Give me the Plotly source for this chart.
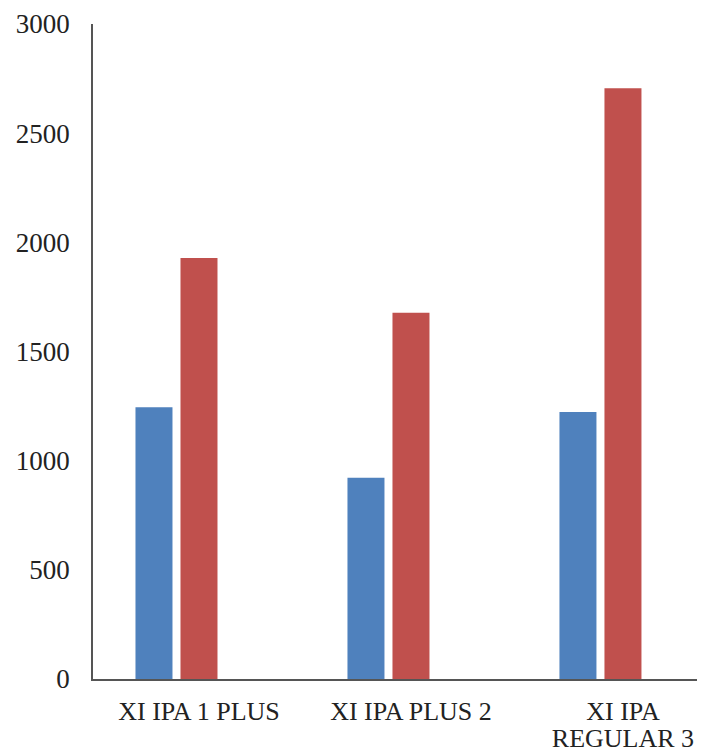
import plotly.graph_objects as go

categories = ["XI IPA 1 PLUS", "XI IPA PLUS 2", "XI IPA REGULAR 3"]
label_line1 = ["XI IPA 1 PLUS", "XI IPA PLUS 2", "XI IPA"]
label_line2 = ["", "", "REGULAR 3"]
series_blue = [1245, 922, 1223]
series_red = [1928, 1678, 2706]
series_empty = [0, 0, 0]
y_ticks = [0, 500, 1000, 1500, 2000, 2500, 3000]

fig = go.Figure()
fig.add_trace(go.Bar(x=categories, y=series_blue, marker=dict(color="#4F81BD", line=dict(width=0)), name="A"))
fig.add_trace(go.Bar(x=categories, y=series_red, marker=dict(color="#C0504D", line=dict(width=0)), name="B"))
fig.add_trace(go.Bar(x=categories, y=series_empty, marker=dict(color="rgba(0,0,0,0)", line=dict(width=0)), name="C", hoverinfo="skip"))
fig.add_trace(go.Scatter(x=categories, y=[None, None, None], xaxis="x2", showlegend=False, hoverinfo="skip"))

font = dict(family="Liberation Serif, Times New Roman, serif", size=27, color="#222")
xfont = dict(family="Liberation Serif, Times New Roman, serif", size=26, color="#222")
# page body has 8px margin: figure is shifted by 8px right/down
fig.update_layout(
    width=697, height=745,
    margin=dict(l=85, r=0, t=16, b=74),
    paper_bgcolor="white", plot_bgcolor="white",
    barmode="group", bargap=0.363, bargroupgap=0.178,
    showlegend=False,
    font=font,
    xaxis2=dict(
        type="category", overlaying="x", side="bottom", range=[-0.5, 2.387],
        tickvals=categories, ticktext=label_line2,
        showline=False, showgrid=False, ticks="", tickfont=xfont, ticklabelstandoff=41,
        zeroline=False,
    ),
)
fig.layout.xaxis.update(
    type="category", range=[-0.5, 2.387],
    tickvals=categories, ticktext=label_line1,
    showline=True, linecolor="#555", linewidth=1.5,
    showgrid=False, ticks="", tickfont=xfont, ticklabelstandoff=8,
)
fig.update_yaxes(
    range=[0, 3000], tickvals=y_ticks,
    showline=True, linecolor="#555", linewidth=1.5,
    showgrid=False, zeroline=False, ticks="", tickfont=font, ticklabelstandoff=16,
)
fig.write_html("out.html")
